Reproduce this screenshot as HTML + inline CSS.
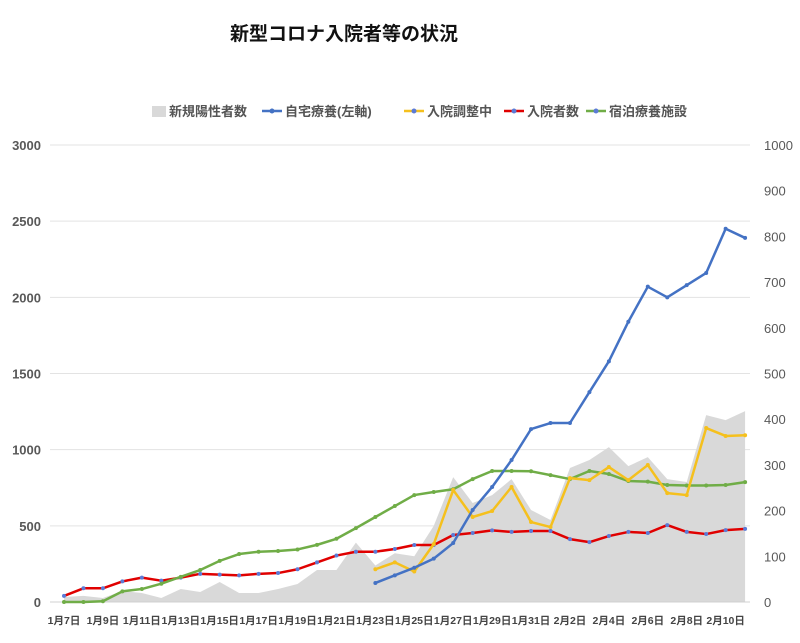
<!DOCTYPE html>
<html><head><meta charset="utf-8"><style>
html,body{margin:0;padding:0;background:#fff;}
svg text{font-family:"Liberation Sans","Noto Sans CJK JP",sans-serif;}
</style></head><body>
<svg id="s" width="800" height="638" viewBox="0 0 800 638" xmlns="http://www.w3.org/2000/svg">
<rect width="800" height="638" fill="#fff"/>
<text x="344" y="40" text-anchor="middle" font-size="19" font-weight="bold" fill="#111">新型コロナ入院者等の状況</text>
<g font-size="13" font-weight="bold" fill="#555">
<rect x="152" y="106" width="14" height="11" fill="#d9d9d9"/><text x="169" y="116">新規陽性者数</text>
<line x1="262" y1="111" x2="282" y2="111" stroke="#4472c4" stroke-width="2.5"/><circle cx="272" cy="111" r="2.5" fill="#4472c4"/><text x="285" y="116">自宅療養(左軸)</text>
<line x1="404" y1="111" x2="424" y2="111" stroke="#f5c01d" stroke-width="2.5"/><circle cx="414" cy="111" r="2.5" fill="#5b7bd6"/><text x="427" y="116">入院調整中</text>
<line x1="504" y1="111" x2="524" y2="111" stroke="#e00000" stroke-width="2.5"/><circle cx="514" cy="111" r="2.5" fill="#5b7bd6"/><text x="527" y="116">入院者数</text>
<line x1="586" y1="111" x2="606" y2="111" stroke="#70ad47" stroke-width="2.5"/><circle cx="596" cy="111" r="2.5" fill="#5b7bd6"/><text x="609" y="116">宿泊療養施設</text>
</g>
<g id="plot"></g>
</svg>
<script>
var P=document.getElementById('plot');
function X(i){return 64+19.46*i}
function Y(v){return 602-v*0.15233}
var h='';
for(var k=0;k<=6;k++){var y=Y(k*500);
 if(k>0)h+='<line x1="50" x2="750" y1="'+y+'" y2="'+y+'" stroke="#e3e3e3" stroke-width="1"/>';
 h+='<text x="41" y="'+(y+5)+'" text-anchor="end" font-size="13" font-weight="bold" fill="#595959">'+(k*500)+'</text>';}
for(var k=0;k<=10;k++){var y=602-k*45.7;
 h+='<text x="764" y="'+(y+5)+'" font-size="13" fill="#595959">'+(k*100)+'</text>';}
var gray=[33,40,26,72,59,26,85,66,131,59,59,85,118,210,210,390,240,320,300,500,820,650,702,807,604,538,880,932,1017,892,951,807,788,1227,1194,1253];
var d='M'+X(0)+' '+Y(0);gray.forEach(function(v,i){d+=' L'+X(i)+' '+Y(v)});d+=' L'+X(35)+' '+Y(0)+' Z';
h+='<path d="'+d+'" fill="#d9d9d9"/>';
h+='<line x1="50" x2="750" y1="602" y2="602" stroke="#d0d0d0"/>';
var labels=['1月7日','1月9日','1月11日','1月13日','1月15日','1月17日','1月19日','1月21日','1月23日','1月25日','1月27日','1月29日','1月31日','2月2日','2月4日','2月6日','2月8日','2月10日'];
labels.forEach(function(t,j){h+='<text x="'+X(j*2)+'" y="624" text-anchor="middle" font-size="10.5" font-weight="bold" fill="#444">'+t+'</text>'});
function line(vals,start,col,mk){var d='';vals.forEach(function(v,i){d+=(i?' L':'M')+X(i+start)+' '+Y(v)});
 h+='<path d="'+d+'" fill="none" stroke="'+col+'" stroke-width="2.5" stroke-linejoin="round"/>';
 vals.forEach(function(v,i){h+='<circle cx="'+X(i+start)+'" cy="'+Y(v)+'" r="2" fill="'+mk+'"/>'});}
line([40,90,90,135,160,140,160,185,180,175,185,190,215,260,305,330,330,348,374,374,440,453,470,460,466,466,413,393,433,460,453,505,460,446,472,480],0,'#e00000','#5b7bd6');
line([0,0,5,70,85,120,165,210,270,315,330,335,345,375,415,485,558,630,702,722,740,807,860,860,858,833,807,860,840,794,790,768,765,765,768,787],0,'#70ad47','#70ad47');
line([215,260,200,380,735,558,597,755,525,492,813,800,886,800,899,715,702,1142,1090,1095],16,'#f5c01d','#f5c01d');
line([125,175,225,285,387,604,755,932,1135,1175,1175,1378,1580,1840,2070,2000,2080,2160,2450,2390],16,'#4472c4','#4472c4');
P.innerHTML=h;
</script>
</body></html>
